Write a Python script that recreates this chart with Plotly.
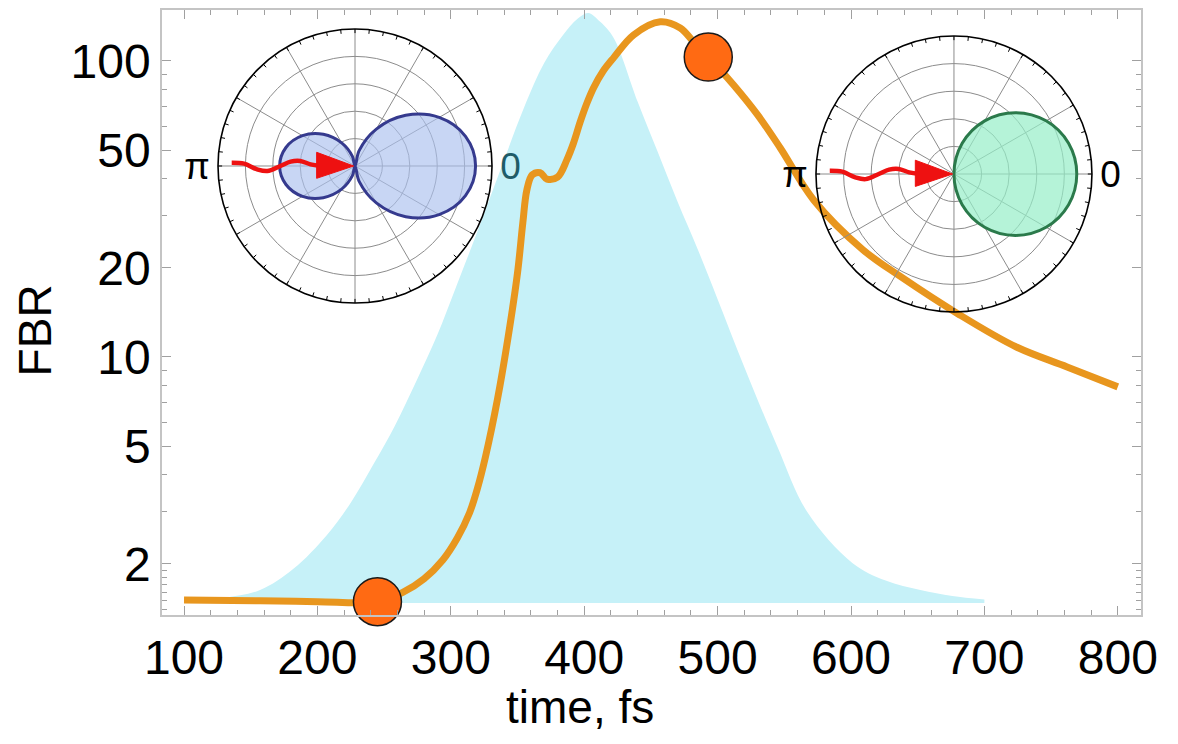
import math
import plotly.graph_objects as go

# ---------------- data ----------------
# FBR curve (time in fs, FBR value)
T_FBR = [100, 157, 200, 245, 264, 280, 294, 305, 314, 320, 326, 335, 343, 350,
         354, 357, 361, 367, 372, 380, 387, 392, 397, 402, 407, 414, 422, 437,
         457, 472, 482, 493, 512, 530, 547, 572, 609, 637, 680, 724, 762, 800]
FBR = [1.51, 1.50, 1.49, 1.49, 1.60, 1.78, 2.06, 2.45, 2.97, 3.6, 4.6, 7.2,
       11.7, 19.2, 28.4, 36.6, 41.2, 41.9, 39.9, 40.5, 46.3, 52.8, 62.2, 71.9,
       81.1, 92.1, 102.4, 122.4, 135.6, 129.2, 115.9, 103.2, 82.9, 65.7, 50.8,
       33.9, 23.0, 18.7, 14.0, 10.8, 9.25, 7.92]

# highlighted points
MARK_T = [245, 493]
MARK_FBR = [1.49, 103]

# pulse envelope (relative intensity, linear)
T_ENV = [100, 130, 157, 182, 207, 225, 242, 258, 275, 290, 303, 320, 339,
         355, 370, 384, 395, 403, 412, 422, 440, 455, 470, 485, 500, 520,
         545, 567, 601, 626, 652, 676, 700]
ENV = [0.003, 0.009, 0.022, 0.058, 0.115, 0.17, 0.235, 0.30, 0.38, 0.455,
       0.53, 0.63, 0.745, 0.84, 0.915, 0.962, 0.99, 1.0, 0.985, 0.958, 0.85,
       0.765, 0.68, 0.60, 0.515, 0.40, 0.264, 0.155, 0.068, 0.038, 0.022,
       0.012, 0.006]

# angular distributions (theta in degrees, r relative to outer ring)
LOBE_THETA = list(range(0, 361, 15))
BLUE_R = [0.88, 0.835, 0.709, 0.523, 0.311, 0.116, 0.0, 0.073, 0.195, 0.327,
          0.443, 0.522, 0.55, 0.522, 0.443, 0.327, 0.195, 0.073, 0.0, 0.116,
          0.311, 0.523, 0.709, 0.835, 0.88]
GREEN_THETA = list(range(-90, 91, 15))
GREEN_R = [0.0, 0.23, 0.445, 0.629, 0.771, 0.86, 0.89, 0.86, 0.771, 0.629,
           0.445, 0.23, 0.0]

# incoming wavy arrow (cartesian, unit circle)
WAVE_X = [-0.90, -0.81, -0.715, -0.64, -0.545, -0.47, -0.40, -0.325, -0.25]
WAVE_Y = [0.024, 0.017, -0.024, -0.037, 0.0, 0.032, 0.037, 0.012, 0.0]
HEAD_X = [-0.28, -0.01, -0.28, -0.28]
HEAD_Y = [0.1, 0.0, -0.09, 0.1]

X_TICKS = [100, 200, 300, 400, 500, 600, 700, 800]
Y_TICKS = [2, 5, 10, 20, 50, 100]
Y_MINOR = [1.4, 1.5, 1.6, 1.7, 1.8, 1.9, 3, 4, 6, 7, 8, 9, 30, 40, 60, 70, 80, 90]


def to_polar(xs, ys):
    r = [math.hypot(x, y) for x, y in zip(xs, ys)]
    th = [math.degrees(math.atan2(y, x)) for x, y in zip(xs, ys)]
    return r, th


FONT = "Liberation Sans, Arial, sans-serif"
ORANGE = "#e8961e"

fig = go.Figure()

fig.add_trace(go.Scatter(
    x=T_ENV, y=ENV, yaxis="y", mode="lines",
    line=dict(width=0, shape="spline", smoothing=1.0, color="#c6f1f8"),
    fill="tozeroy", fillcolor="#c6f1f8", hoverinfo="skip", showlegend=False))

fig.add_trace(go.Scatter(
    x=T_FBR, y=FBR, yaxis="y2", mode="lines",
    line=dict(color=ORANGE, width=7, shape="spline", smoothing=1.0),
    showlegend=False))

fig.add_trace(go.Scatter(
    x=MARK_T, y=MARK_FBR, yaxis="y2", mode="markers", cliponaxis=False,
    marker=dict(size=48, color="#ff6a13", line=dict(color="#1a1a1a", width=1.5)),
    showlegend=False))

# polar insets
tick_r, tick_t = [], []
for a in range(0, 360, 6):
    tick_r += [0.97, 1.0, None]
    tick_t += [a, a, None]

wr, wt = to_polar(WAVE_X, WAVE_Y)
hr, ht = to_polar(HEAD_X, HEAD_Y)

for sub, (rr, tt, fillc, linec) in {
        "polar": (BLUE_R, LOBE_THETA, "rgba(170,192,238,0.65)", "#353a8e"),
        "polar2": (GREEN_R, GREEN_THETA, "rgba(150,238,200,0.7)", "#2b7a4b")}.items():
    fig.add_trace(go.Scatterpolar(
        r=tick_r, theta=tick_t, subplot=sub, mode="lines",
        line=dict(color="black", width=1), hoverinfo="skip", showlegend=False))
    fig.add_trace(go.Scatterpolar(
        r=rr, theta=tt, subplot=sub, mode="lines", fill="toself",
        fillcolor=fillc, line=dict(color=linec, width=3, shape="spline"),
        showlegend=False))
    fig.add_trace(go.Scatterpolar(
        r=wr, theta=wt, subplot=sub, mode="lines",
        line=dict(color="#ee1111", width=4.5, shape="spline"),
        hoverinfo="skip", showlegend=False))
    fig.add_trace(go.Scatterpolar(
        r=hr, theta=ht, subplot=sub, mode="lines", fill="toself",
        fillcolor="#ee1111", line=dict(color="#ee1111", width=1),
        hoverinfo="skip", showlegend=False))


def polar_layout(domx, domy, zero_color):
    ticktext = [""] * 12
    ticktext[0] = '<span style="color:%s">0</span>' % zero_color
    ticktext[6] = "π"
    return dict(
        domain=dict(x=domx, y=domy),
        bgcolor="rgba(0,0,0,0)",
        radialaxis=dict(range=[0, 1], tickmode="array",
                        tickvals=[0.2, 0.4, 0.6, 0.8],
                        showticklabels=False, ticks="", showline=False,
                        gridcolor="#8c8c8c", gridwidth=1.4),
        angularaxis=dict(tickmode="array", tickvals=list(range(0, 360, 30)),
                         ticktext=ticktext, showline=True, linecolor="black",
                         linewidth=1.6, gridcolor="#8c8c8c", gridwidth=1.4,
                         ticks="", tickfont=dict(size=37, color="black",
                                                 family=FONT)),
    )


# the page body adds an 8 px offset, so the figure is 8 px smaller
fig.update_layout(
    width=1170, height=736,
    margin=dict(l=154, r=37, t=2, b=129, autoexpand=False),
    paper_bgcolor="white", plot_bgcolor="white",
    font=dict(family=FONT, color="black"),
    showlegend=False,
    xaxis=dict(range=[83.5, 817.4], tickmode="array", tickvals=X_TICKS,
               ticks="inside", ticklen=9, tickcolor="#a0a0a0", tickwidth=1,
               minor=dict(dtick=20, tick0=0, ticks="inside", ticklen=5,
                          tickcolor="#a0a0a0"),
               showline=True, linecolor="#c4c4c4", linewidth=1.5,
               mirror="ticks", showgrid=False, zeroline=False,
               automargin=False, tickfont=dict(size=48)),
    yaxis=dict(range=[-0.0203, 1.005], visible=False, fixedrange=True,
               automargin=False),
    yaxis2=dict(type="log", overlaying="y", side="left",
                range=[0.128, 2.172], tickmode="array", tickvals=Y_TICKS,
                ticktext=[str(v) for v in Y_TICKS],
                ticks="inside", ticklen=9, tickcolor="#a0a0a0",
                minor=dict(tickmode="array", tickvals=Y_MINOR, ticks="inside",
                           ticklen=5, tickcolor="#a0a0a0"),
                showline=True, linecolor="#c4c4c4", linewidth=1.5,
                mirror="ticks", showgrid=False, zeroline=False,
                automargin=False, tickfont=dict(size=48)),
    polar=polar_layout([0.0572, 0.3371], [0.5157, 0.9686], "#1f5c68"),
    polar2=polar_layout([0.6680, 0.9499], [0.5008, 0.9570], "black"),
    annotations=[
        dict(text="time, fs", xref="paper", yref="paper", x=0.427, y=-0.152,
             xanchor="center", yanchor="middle", showarrow=False,
             font=dict(size=46)),
        dict(text="FBR", xref="paper", yref="paper", x=-0.130, y=0.47,
             xanchor="center", yanchor="middle", showarrow=False,
             textangle=-90, font=dict(size=46)),
    ],
)

fig.write_html("out.html")
